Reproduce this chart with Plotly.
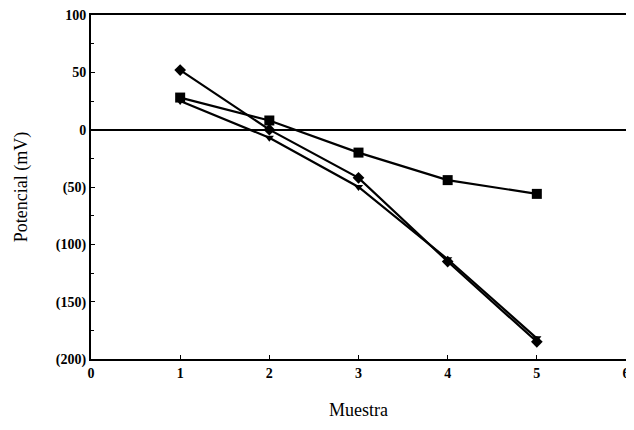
import plotly.graph_objects as go

muestra = [1, 2, 3, 4, 5]
serie_rombo = [52, 0, -42, -115, -185]
serie_cuadro = [28, 8, -20, -44, -56]
serie_triangulo = [25, -7, -50, -113, -182]

y_tickvals = [100, 50, 0, -50, -100, -150, -200]
y_ticktext = ["100", "50", "0", "(50)", "(100)", "(150)", "(200)"]
x_tickvals = [0, 1, 2, 3, 4, 5, 6]

fig = go.Figure()
line = dict(color="black", width=2.2)
fig.add_trace(go.Scatter(x=muestra, y=serie_rombo, mode="lines+markers",
                         line=line, marker=dict(symbol="diamond", size=9, color="black")))
fig.add_trace(go.Scatter(x=muestra, y=serie_cuadro, mode="lines+markers",
                         line=line, marker=dict(symbol="square", size=10, color="black")))
fig.add_trace(go.Scatter(x=muestra, y=serie_triangulo, mode="lines+markers",
                         line=line, marker=dict(symbol="triangle-down", size=8, color="black")))

# page body has an 8px default margin, so the figure is sized to fit the window
fig.update_layout(
    width=618, height=414, autosize=False,
    margin=dict(l=83, r=0, t=7, b=63, autoexpand=False),
    paper_bgcolor="white", plot_bgcolor="white",
    showlegend=False,
    font=dict(family="Liberation Serif", color="black", size=14),
)
fig.update_xaxes(
    range=[0, 6], tickvals=x_tickvals,
    ticks="inside", ticklen=4, tickcolor="black",
    showline=True, linecolor="black", linewidth=2, mirror=True, automargin=False,
    showgrid=False, zeroline=False, ticklabeloverflow="allow",
    tickfont=dict(family="Liberation Serif", size=14, weight="bold"),
    title=dict(text="Muestra", font=dict(family="Liberation Serif", size=18), standoff=24),
)
fig.update_yaxes(
    range=[-200, 100], tickvals=y_tickvals, ticktext=y_ticktext,
    ticks="inside", ticklen=4, tickcolor="black", automargin=False,
    minor=dict(ticks="inside", ticklen=3, dtick=25, tickcolor="black"),
    showline=True, linecolor="black", linewidth=2, mirror=True,
    showgrid=False, zeroline=True, zerolinecolor="black", zerolinewidth=1.5,
    ticklabeloverflow="allow",
    tickfont=dict(family="Liberation Serif", size=14, weight="bold"),
    title=dict(text="Potencial (mV)", font=dict(family="Liberation Serif", size=18), standoff=24),
)

fig.write_html("out.html")
